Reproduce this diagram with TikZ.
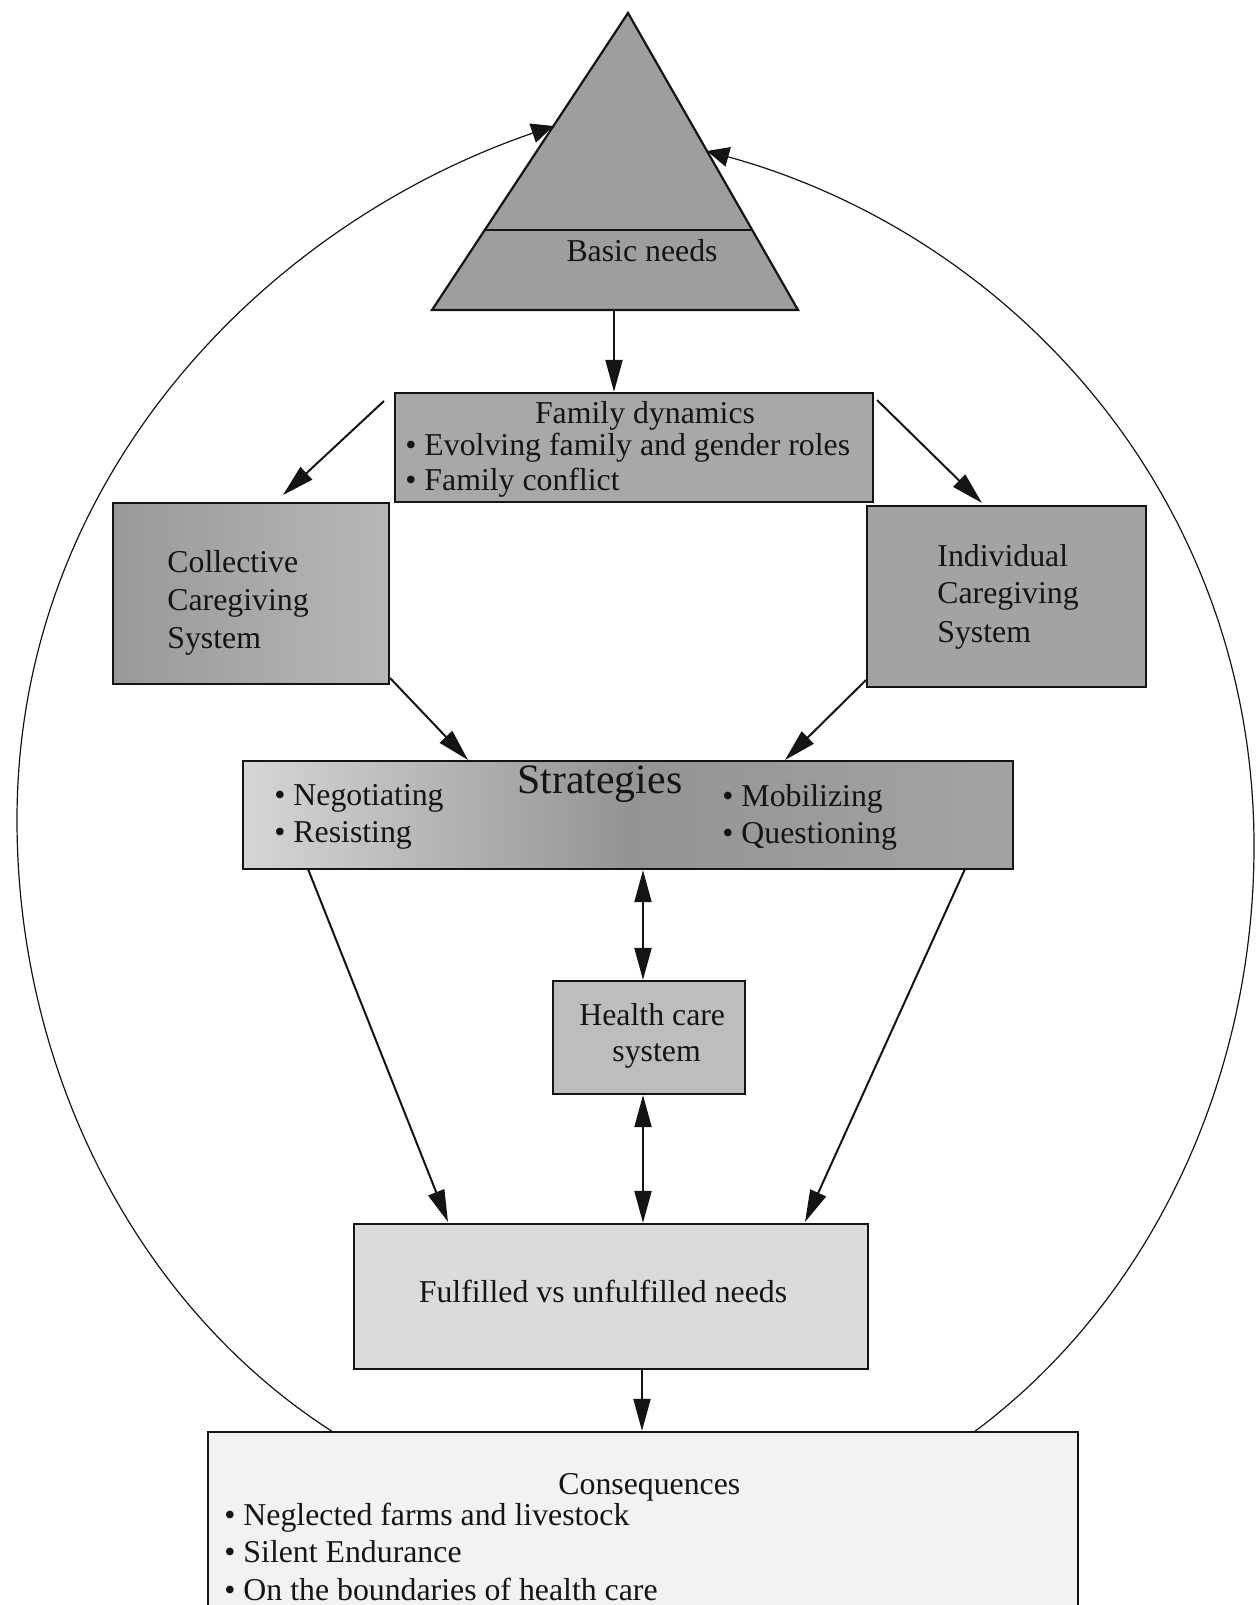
\documentclass[tikz,border=0pt]{standalone}
\usepackage{fontspec}
\setmainfont{Liberation Serif}
\usetikzlibrary{arrows.meta,calc,fit}
\definecolor{ctri}{gray}{0.62}
\definecolor{cfam}{gray}{0.66}
\definecolor{cind}{gray}{0.64}
\definecolor{chealth}{gray}{0.74}
\definecolor{cful}{gray}{0.86}
\definecolor{ccons}{gray}{0.95}
\definecolor{ink}{gray}{0.08}
\begin{document}
\begin{tikzpicture}[x=0.5pt,y=-0.5pt,
  box/.style={draw=ink, line width=1.1pt, inner sep=0pt},
  txt/.style={inner sep=0pt, font=\fontsize{15.9}{19}\selectfont, text=ink},
  arr/.style={draw=ink, -{Triangle[length=16pt,width=8.5pt]}, line width=1pt},
  darr/.style={draw=ink, {Triangle[length=16pt,width=8.5pt]}-{Triangle[length=16pt,width=8.5pt]}, line width=1pt},
  arcarr/.style={draw=ink, -{Triangle[length=11pt,width=10pt]}, line width=0.6pt}]
\useasboundingbox (0,0) rectangle (1257,1605);
\clip (0,0) rectangle (1257,1605);

% triangle (basic needs)
\coordinate (apex) at (628,13);
\coordinate (bl) at (432,310);
\coordinate (br) at (798,310);
\filldraw[fill=ctri, draw=ink, line width=1.1pt, line join=miter] (apex) -- (bl) -- (br) -- cycle;
\draw[ink, line width=1.1pt] ($(apex)!0.7306!(bl)$) -- ($(apex)!0.7306!(br)$);
\node[txt, anchor=base] (basic) at (642,262) {Basic needs};
\coordinate (tribase) at (614,310);

% boxes
\node[box, fill=cfam, fit={(395,393) (873,502)}] (fam) {};
\node[box, left color=black!40, right color=black!28, fit={(113,503) (389,684)}] (coll) {};
\node[box, fill=cind, fit={(867,506) (1146,687)}] (ind) {};
\node[box, left color=black!16, right color=black!36, middle color=black!42, fit={(243,761) (1013,869)}] (strat) {};
\node[box, fill=chealth, fit={(553,981) (745,1094)}] (health) {};
\node[box, fill=cful, fit={(354,1224) (868,1369)}] (ful) {};
\node[box, fill=ccons, fit={(208,1432) (1078,1640)}] (cons) {};

% texts
\node[txt, anchor=base] (famt) at (645,423) {Family dynamics};
\node[txt, anchor=base west] (fam1) at (405,455) {\textbullet{} Evolving family and gender roles};
\node[txt, anchor=base west] (fam2) at (405,490) {\textbullet{} Family conflict};

\node[txt, anchor=base west] (coll1) at (167,572) {Collective};
\node[txt, anchor=base west] (coll2) at (167,610) {Caregiving};
\node[txt, anchor=base west] (coll3) at (167,648) {System};

\node[txt, anchor=base west] (ind1) at (937,566) {Individual};
\node[txt, anchor=base west] (ind2) at (937,603) {Caregiving};
\node[txt, anchor=base west] (ind3) at (937,642) {System};

\node[txt, anchor=base west, font=\fontsize{20.9}{24}\selectfont] (stratt) at (517,793) {Strategies};
\node[txt, anchor=base west] (s1) at (274,805) {\textbullet{} Negotiating};
\node[txt, anchor=base west] (s2) at (274,842) {\textbullet{} Resisting};
\node[txt, anchor=base west] (s3) at (722,806) {\textbullet{} Mobilizing};
\node[txt, anchor=base west] (s4) at (722,843) {\textbullet{} Questioning};

\node[txt, anchor=base west] (h1) at (579,1025) {Health care};
\node[txt, anchor=base west] (h2) at (612,1061) {system};

\node[txt, anchor=base] (fult) at (603,1302) {Fulfilled vs unfulfilled needs};

\node[txt, anchor=base west] (const) at (558,1494) {Consequences};
\node[txt, anchor=base west] (c1) at (224,1525) {\textbullet{} Neglected farms and livestock};
\node[txt, anchor=base west] (c2) at (224,1562) {\textbullet{} Silent Endurance};
\node[txt, anchor=base west] (c3) at (224,1600) {\textbullet{} On the boundaries of health care};

% connector end points
\coordinate (fcs) at (384,401);
\coordinate (fce) at (283,495);
\coordinate (fis) at (877,400);
\coordinate (fie) at (982,503);
\coordinate (css) at (390,678);
\coordinate (cse) at (468,760);
\coordinate (iss) at (866,680);
\coordinate (ise) at (785,760);
\coordinate (slx) at (308,869);
\coordinate (sle) at (448,1222);
\coordinate (srx) at (965,869);
\coordinate (sre) at (805,1222);
\coordinate (hx) at (643,0);
\coordinate (fx) at (642,0);

% connectors
\draw[arr] (tribase) -- (fam.north -| tribase);
\draw[arr] (fcs) -- (fce);
\draw[arr] (fis) -- (fie);
\draw[arr] (css) -- (cse);
\draw[arr] (iss) -- (ise);
\draw[arr] (slx) -- (sle);
\draw[arr] (srx) -- (sre);
\draw[darr] (strat.south -| hx) -- (health.north -| hx);
\draw[darr] (health.south -| hx) -- (ful.north -| hx);
\draw[arr] (ful.south -| fx) -- (cons.north -| fx);

% feedback arcs
\coordinate (Ls) at (333,1432);
\coordinate (Lm) at (17,820);
\coordinate (Le) at ($(apex)!0.3805!(bl)$);
\coordinate (Rs) at (974,1432);
\coordinate (Rm) at (1254,846);
\coordinate (Re) at ($(apex)!0.4646!(br)$);
\draw[arcarr] (Ls) .. controls (138,1307) and (17,1073) .. (Lm)
  .. controls (17,480) and (262,226) .. (Le);
\draw[arcarr] (Rs) .. controls (1149,1302) and (1254,1082) .. (Rm)
  .. controls (1254,500) and (1015,236) .. (Re);
\end{tikzpicture}
\end{document}
